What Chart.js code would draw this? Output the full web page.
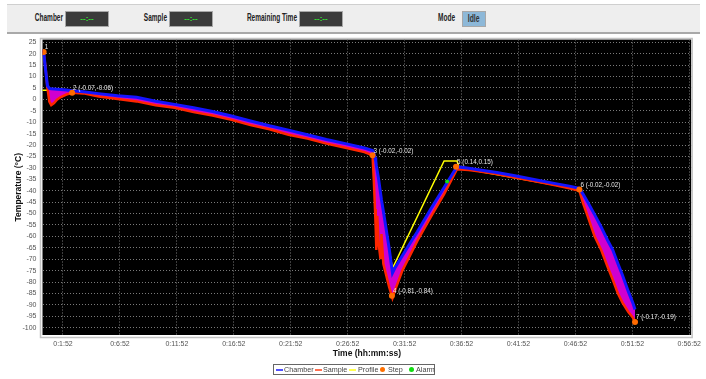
<!DOCTYPE html>
<html>
<head>
<meta charset="utf-8">
<script src="https://cdn.jsdelivr.net/npm/chart.js@4.4.1/dist/chart.umd.min.js"></script>
<style>
  body { margin: 0; width: 706px; height: 379px; background: #fff; overflow: hidden; position: relative; }
  #c { position: absolute; left: 0; top: 0; }
  #bar { position: absolute; left: 7px; top: 4px; width: 693px; height: 27px; background: #eeeeee;
         border-top: 1px solid #cfcfcf; border-bottom: 2px solid #a9a9a9; }
  #bar .lbl { position: absolute; top: 5px; width: 80px; text-align: right; font: bold 10px "Liberation Sans", Arial, sans-serif;
              line-height: 16px; color: #222; transform: scaleX(0.65); transform-origin: right center; }
  #bar .box { position: absolute; top: 6px; height: 16px; width: 44px; background: #3b3b3b; border: 1px solid #a8a8a8;
              box-sizing: border-box; color: #33e433; font: bold 8px "Liberation Sans", sans-serif; text-align: center; line-height: 14px; }
  #bar .idle { background: #8db8d8; color: #333; width: 24px; font: bold 10px "Liberation Sans", sans-serif; line-height: 14px; }
  #bar .idle span { display: inline-block; transform: scaleX(0.68); }
  #legend { position: absolute; left: 273px; top: 364px; width: 162px; height: 11px; box-sizing: border-box; border: 1px solid #666;
            font: 7.2px "Liberation Sans", sans-serif; color: #444; white-space: nowrap; }
  #legend span { position: absolute; top: 0; line-height: 9px; }
  #legend i { position: absolute; display: block; }
</style>
</head>
<body>
<canvas id="c" width="706" height="379"></canvas>

<div id="bar">
  <div class="lbl" style="left:-24px">Chamber</div>
  <div class="box" style="left:58px">--:--</div>
  <div class="lbl" style="left:80px">Sample</div>
  <div class="box" style="left:162px">--:--</div>
  <div class="lbl" style="left:210px">Remaining Time</div>
  <div class="box" style="left:292px">--:--</div>
  <div class="lbl" style="left:368px">Mode</div>
  <div class="box idle" style="left:455px"><span>Idle</span></div>
</div>

<div id="legend">
  <i style="left:2px;top:4px;width:7px;height:2px;background:#5050ff"></i><span style="left:10px">Chamber</span>
  <i style="left:41px;top:4px;width:7px;height:2px;background:#ff7050"></i><span style="left:49px">Sample</span>
  <i style="left:75px;top:4px;width:7px;height:2px;background:#ffff50"></i><span style="left:84px">Profile</span>
  <i style="left:106px;top:2px;width:5px;height:5px;border-radius:50%;background:#ff7000"></i><span style="left:114px">Step</span>
  <i style="left:135px;top:2px;width:5px;height:5px;border-radius:50%;background:#10dd10"></i><span style="left:142px">Alarm</span>
</div>

<script>
// zaman (saniye) ve sicakliklar
const times = [
  0, 10, 20, 30, 40, 50, 65, 80, 100, 130,
  160, 220, 300, 400, 500, 600, 700, 800, 900, 1000,
  1100, 1200, 1300, 1400, 1500, 1600, 1700, 1743, 1750, 1756,
  1760, 1763, 1768, 1775, 1785, 1790, 1800, 1815, 1830, 1848,
  1860, 1900, 1979, 2050, 2120, 2188, 2250, 2300, 2398, 2500,
  2607, 2700, 2780, 2833, 2852, 2880, 2913, 2948, 2980, 3009,
  3036, 3060, 3090, 3114, 3126
];
const chamber = [
  21.5, 21, 13, 6, 4.8, 4.6, 4.5, 4.4, 4.3, 4.1,
  3.8, 3.3, 2.5, 1.6, 0.9, -0.8, -2.2, -3.7, -5.3, -7.3,
  -9.5, -11.6, -13.5, -15.5, -17.6, -19.4, -21.3, -22.4, -23.5, -25.5,
  -27, -29, -31.5, -35, -41, -44, -49, -57, -65, -76,
  -74, -68.5, -58, -48, -38.6, -29.5, -30.2, -30.8, -32, -33.6,
  -35.3, -36.8, -38, -39, -41.5, -45.5, -50.5, -56, -61.5, -66,
  -72, -77, -84, -89, -92
];
const sample = [
  21, 20.5, 14, 5, -1, -2.5, -1.6, -0.2, 1, 2.1,
  2.9, 2.6, 1.2, 0.1, -0.9, -2.6, -3.7, -5.6, -7.1, -9.0,
  -11.3, -13.1, -15.5, -17.2, -19.4, -21.2, -23.1, -24.5, -36, -48,
  -57, -66, -51, -63, -70, -59, -72, -77, -82, -87,
  -84, -75, -62, -51.5, -41.5, -30.6, -30.9, -31.5, -32.7, -34.4,
  -36, -37.5, -38.9, -40, -45.5, -52, -60, -66, -73, -79,
  -85, -89, -93, -95.5, -97.5
];

const profTimes = [0, 160, 500, 900, 1300, 1743, 1790, 1848, 2120, 2188, 2200, 2833, 3126];
const profTemps = [4, 4, 0, -6, -14.5, -23, -46, -74, -27, -27, -30, -39.5, -92];

const stepTimes = [10, 160, 1743, 1845, 2183, 2833, 3126];
const stepTemps = [20.7, 2.9, -24.5, -86, -29.5, -39.5, -97.5];
const stepLabels = ["1", "2 (-0.07,-0.06)", "3 (-0.02,-0.02)", "4 (-0.81,-0.84)", "5 (0.14,0.15)", "6 (-0.02,-0.02)", "7 (-0.17,-0.19)"];

const alarmTimes = [2136];
const alarmTemps = [-36];

const xTickSecs = [112, 412, 712, 1012, 1312, 1612, 1912, 2212, 2512, 2812, 3112, 3412];
const xTickLabels = ["0:1:52", "0:6:52", "0:11:52", "0:16:52", "0:21:52", "0:26:52", "0:31:52", "0:36:52", "0:41:52", "0:46:52", "0:51:52", "0:56:52"];
const yTicks = [25, 20, 15, 10, 5, 0, -5, -10, -15, -20, -25, -30, -35, -40, -45, -50, -55, -60, -65, -70, -75, -80, -85, -90, -95, -100];

function pts(xs, ys) {
  return xs.map((x, i) => ({ x: x, y: ys[i] }));
}

const fam = '"Liberation Sans", Arial, sans-serif';

const plotFrame = {
  id: "plotFrame",
  beforeDraw(chart) {
    const { ctx, chartArea: a } = chart;
    ctx.save();
    ctx.fillStyle = "#000";
    ctx.fillRect(a.left, a.top, a.right - a.left, a.bottom - a.top);
    ctx.strokeStyle = "#c4c4c4";
    ctx.lineWidth = 1.5;
    ctx.strokeRect(a.left - 2, a.top - 1, a.right - a.left + 3, a.bottom - a.top + 3.5);
    ctx.restore();
  },
  afterDatasetsDraw(chart) {
    const { ctx } = chart;
    const xs = chart.scales.x, ys = chart.scales.y;
    ctx.save();
    ctx.font = "6.3px " + fam;
    ctx.fillStyle = "#e8e8e8";
    ctx.textBaseline = "middle";
    stepLabels.forEach((txt, i) => {
      const px = xs.getPixelForValue(stepTimes[i]);
      const py = ys.getPixelForValue(stepTemps[i]);
      ctx.fillText(txt, px + 1, py - 4.5);
    });
    ctx.restore();
  }
};

let ctx = document.getElementById("c").getContext("2d");
let myChart = new Chart(ctx, {
  type: "line",
  data: {
    datasets: [
      {
        label: "Step",
        data: pts(stepTimes, stepTemps),
        showLine: false,
        pointRadius: 3,
        pointBackgroundColor: "#ff6a00",
        pointBorderWidth: 0,
      },
      {
        label: "Alarm",
        data: pts(alarmTimes, alarmTemps),
        showLine: false,
        pointRadius: 2,
        pointBackgroundColor: "#10dd10",
        pointBorderWidth: 0,
      },
      {
        label: "Chamber",
        data: pts(times, chamber),
        borderColor: "#1414ff",
        borderWidth: 3,
        pointRadius: 0,
      },
      {
        label: "Sample",
        data: pts(times, sample),
        borderColor: "#ff2600",
        borderWidth: 2.5,
        pointRadius: 0,
        fill: 2,
        backgroundColor: "#d000d0",
      },
      {
        label: "Profile",
        data: pts(profTimes, profTemps),
        borderColor: "#ffff00",
        borderWidth: 1.5,
        pointRadius: 0,
      },
    ],
  },
  options: {
    responsive: false,
    animation: false,
    layout: { padding: { left: 0, top: 39.5, right: 11, bottom: 20 } },
    plugins: {
      legend: { display: false },
      tooltip: { enabled: false },
    },
    scales: {
      x: {
        type: "linear",
        min: 4,
        max: 3422,
        afterBuildTicks: (s) => { s.ticks = xTickSecs.map((v) => ({ value: v })); },
        afterFit: (s) => { s.height = 24; },
        ticks: {
          callback: (v, i) => xTickLabels[i],
          autoSkip: false,
          maxRotation: 0,
          padding: 5,
          color: "#555",
          font: { size: 7, family: fam },
        },
        grid: { color: "#7a7a7a", lineWidth: 1, drawTicks: false },
        border: { display: false, dash: [1, 2] },
        title: {
          display: true,
          text: "Time (hh:mm:ss)",
          color: "#111",
          font: { size: 8.5, weight: "bold", family: fam },
          padding: { top: 0, bottom: 0 },
        },
      },
      y: {
        min: -103.2,
        max: 26.2,
        afterBuildTicks: (s) => { s.ticks = yTicks.map((v) => ({ value: v })); },
        afterFit: (s) => { s.width = 42.5; },
        ticks: {
          padding: 6,
          color: "#555",
          font: { size: 7, family: fam },
        },
        grid: { color: "#7a7a7a", lineWidth: 1, drawTicks: false },
        border: { display: false, dash: [1, 2] },
        title: {
          display: true,
          text: "Temperature (°C)",
          color: "#111",
          font: { size: 8.5, weight: "bold", family: fam },
          padding: { top: 14, bottom: 0 },
        },
      },
    },
  },
  plugins: [plotFrame],
});
</script>
</body>
</html>
